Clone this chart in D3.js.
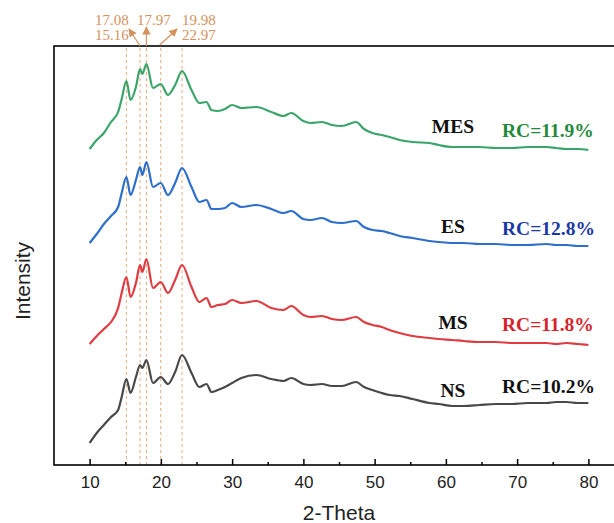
<!DOCTYPE html>
<html>
<head>
<meta charset="utf-8">
<script src="https://cdn.jsdelivr.net/npm/d3@7"></script>
<style>
  body { margin: 0; background: #fff; }
  svg { display: block; }
</style>
</head>
<body>
<div id="chart"></div>
<script>
// 2-Theta sample positions shared by all patterns
const twoTheta = [10, 11, 12, 13, 14, 14.5, 15.16, 15.75, 16.5, 17.08, 17.4, 17.97, 18.9, 19.98, 21, 22, 22.97,
  24.3, 25.4, 26.4, 27.1, 28, 29, 30, 31.3, 33.4, 35.5, 37.2, 38.3, 40, 41, 42.6, 44, 45.4, 47.4, 48.5,
  49.7, 51, 52.1, 53.5, 55.3, 57.7, 59, 60.9, 62.5, 64.7, 67, 69.3, 71.5, 74.1, 75.5, 76.9, 78.5, 80];

// intensities (a.u., stacked as in the figure)
const nsValues = [22, 32, 40, 48, 55, 68, 86, 72, 88, 100, 97, 105, 82, 88, 81, 93, 110,
  92, 78, 81, 73, 75, 78, 82, 87, 90, 86, 84, 87, 81, 80, 81, 79, 79, 83, 78,
  75, 72, 70, 69, 66, 62, 61, 59, 59, 60, 61, 61, 62, 62, 63, 63, 62, 62];
const msValues = [121, 129, 136, 143, 157, 172, 188, 168, 182, 200, 193, 206, 177, 183, 172, 185, 200,
  178, 163, 167, 158, 160, 161, 165, 162, 164, 157, 155, 159, 150, 148, 149, 146, 145, 148, 143,
  140, 138, 135, 132, 129, 127, 126, 125, 124, 123, 123, 122, 122, 122, 121, 122, 121, 120];
const esValues = [222, 231, 241, 249, 258, 272, 288, 270, 285, 298, 290, 303, 278, 282, 270, 282, 297,
  278, 263, 265, 256, 256, 257, 262, 258, 260, 256, 252, 254, 246, 245, 247, 243, 242, 244, 238,
  235, 234, 232, 229, 227, 224, 223, 222, 222, 221, 221, 220, 220, 221, 220, 220, 219, 219];
const mesValues = [316, 325, 332, 343, 353, 366, 384, 365, 378, 396, 391, 401, 377, 381, 370, 380, 394,
  375, 362, 363, 355, 354, 356, 360, 357, 358, 353, 349, 352, 344, 342, 343, 340, 339, 343, 336,
  332, 330, 328, 325, 323, 322, 320, 318, 318, 318, 317, 317, 318, 318, 317, 316, 316, 315];

const seriesNames = ["NS", "MS", "ES", "MES"];
const rcLabels = ["RC=10.2%", "RC=11.8%", "RC=12.8%", "RC=11.9%"];
const peakPositions = [15.16, 17.08, 17.97, 19.98, 22.97];
const majorTicks = [10, 20, 30, 40, 50, 60, 70, 80];
const minorTicks = [15, 25, 35, 45, 55, 65, 75];

const allSeries = [nsValues, msValues, esValues, mesValues];
const lineColors = ["#484848", "#df3b40", "#2e6fcc", "#3aa56a"];
const rcColors = ["#111111", "#d8232b", "#1b38a6", "#1f8a3c"];

const width = 614, height = 523;
const margin = { top: 46, left: 54, bottom: 58 };
const plotRight = 624; // frame runs past the picture edge

const svg = d3.select("#chart").append("svg")
  .attr("width", width)
  .attr("height", height);

const x = d3.scaleLinear().domain([5, 85]).range([margin.left, plotRight]);
const y = d3.scaleLinear().domain([0, 419]).range([height - margin.bottom, margin.top]);
const axisY = height - margin.bottom;

// dashed peak guides
svg.append("g").selectAll("line")
  .data(peakPositions)
  .join("line")
  .attr("x1", d => x(d)).attr("x2", d => x(d))
  .attr("y1", margin.top + 2).attr("y2", axisY)
  .attr("stroke", "#eaa878")
  .attr("stroke-width", 1)
  .attr("stroke-dasharray", "3,3");

// patterns
const line = d3.line()
  .x((d, i) => x(twoTheta[i]))
  .y(d => y(d))
  .curve(d3.curveMonotoneX);

svg.append("g").selectAll("path")
  .data(allSeries)
  .join("path")
  .attr("d", d => line(d))
  .attr("fill", "none")
  .attr("stroke", (d, i) => lineColors[i])
  .attr("stroke-width", 2.2)
  .attr("stroke-linejoin", "round");

// frame
svg.append("rect")
  .attr("x", margin.left).attr("y", margin.top)
  .attr("width", plotRight - margin.left)
  .attr("height", axisY - margin.top)
  .attr("fill", "none")
  .attr("stroke", "#000")
  .attr("stroke-width", 1.6);

// x axis, ticks pointing inward
const xAxis = svg.append("g")
  .attr("transform", `translate(0,${axisY})`)
  .call(d3.axisBottom(x).tickValues(majorTicks).tickSizeInner(-6).tickSizeOuter(0).tickPadding(11));
xAxis.select(".domain").remove();
xAxis.selectAll("line").attr("stroke", "#000").attr("stroke-width", 1.5);
xAxis.selectAll("text")
  .attr("font-family", "Liberation Sans, Arial, sans-serif")
  .attr("font-size", 17)
  .attr("fill", "#222");

const xMinor = svg.append("g")
  .attr("transform", `translate(0,${axisY})`)
  .call(d3.axisBottom(x).tickValues(minorTicks).tickSizeInner(-3).tickSizeOuter(0).tickFormat(""));
xMinor.select(".domain").remove();
xMinor.selectAll("line").attr("stroke", "#000").attr("stroke-width", 1.5);

// axis titles
svg.append("text")
  .attr("x", 339).attr("y", 520)
  .attr("text-anchor", "middle")
  .attr("font-family", "Liberation Sans, Arial, sans-serif")
  .attr("font-size", 21)
  .attr("fill", "#222")
  .text("2-Theta");

svg.append("text")
  .attr("transform", "translate(30,281) rotate(-90)")
  .attr("text-anchor", "middle")
  .attr("font-family", "Liberation Sans, Arial, sans-serif")
  .attr("font-size", 21)
  .attr("fill", "#222")
  .text("Intensity");

// sample names and crystallinity
const nameY = [397, 329, 233, 133];
const rcY = [393, 331, 235, 137];
const serif = "Liberation Serif, Times New Roman, serif";

svg.append("g").selectAll("text")
  .data(seriesNames)
  .join("text")
  .attr("x", 453).attr("y", (d, i) => nameY[i])
  .attr("text-anchor", "middle")
  .attr("font-family", serif)
  .attr("font-weight", "bold")
  .attr("font-size", 19.5)
  .attr("fill", "#111")
  .text(d => d);

svg.append("g").selectAll("text")
  .data(rcLabels)
  .join("text")
  .attr("x", 502).attr("y", (d, i) => rcY[i])
  .attr("font-family", serif)
  .attr("font-weight", "bold")
  .attr("font-size", 19.5)
  .attr("fill", (d, i) => rcColors[i])
  .text(d => d);

// peak annotations
const annoColor = "#d4935c";
svg.append("defs").append("marker")
  .attr("id", "arrow")
  .attr("viewBox", "0 0 10 10")
  .attr("refX", 9).attr("refY", 5)
  .attr("markerWidth", 7).attr("markerHeight", 7)
  .attr("orient", "auto")
  .append("path")
  .attr("d", "M0,0 L10,5 L0,10 Z")
  .attr("fill", annoColor);

const anno = svg.append("g")
  .attr("font-family", serif)
  .attr("font-size", 15)
  .attr("fill", annoColor);
anno.append("text").attr("x", 95).attr("y", 25).text(peakPositions[1].toFixed(2));
anno.append("text").attr("x", 95).attr("y", 40).text(peakPositions[0].toFixed(2));
anno.append("text").attr("x", 137).attr("y", 25).text(peakPositions[2].toFixed(2));
anno.append("text").attr("x", 182).attr("y", 25).text(peakPositions[3].toFixed(2));
anno.append("text").attr("x", 182).attr("y", 40).text(peakPositions[4].toFixed(2));

const arrows = [
  [x(peakPositions[1]), margin.top, 129, 29],
  [x(peakPositions[2]), margin.top, x(peakPositions[2]), 27],
  [x(peakPositions[3]) - 1, margin.top - 1, 177, 29]
];
svg.append("g").selectAll("line")
  .data(arrows)
  .join("line")
  .attr("x1", d => d[0]).attr("y1", d => d[1])
  .attr("x2", d => d[2]).attr("y2", d => d[3])
  .attr("stroke", annoColor)
  .attr("stroke-width", 1.2)
  .attr("marker-end", "url(#arrow)");
</script>
</body>
</html>
